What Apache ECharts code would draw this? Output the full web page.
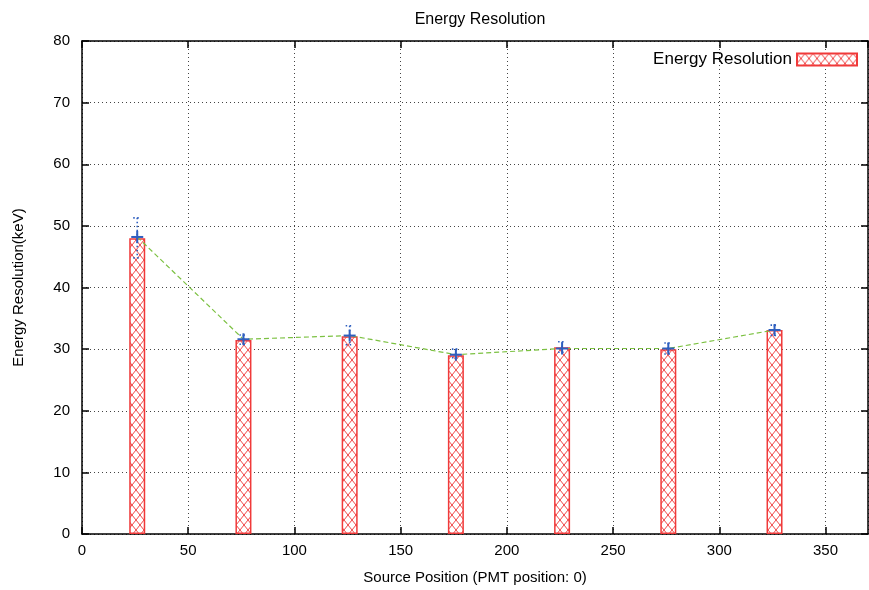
<!DOCTYPE html>
<html><head><meta charset="utf-8">
<script src="https://cdn.jsdelivr.net/npm/echarts@6/dist/echarts.min.js"></script>
<style>html,body{margin:0;padding:0;background:#fff}#c{width:869px;height:590px}</style>
</head><body><div id="c"></div>
<script>
var positions = [26, 76, 126, 176, 226, 276, 326];
var resolution = [48.0, 31.5, 32.1, 29.0, 30.3, 30.0, 33.1];
var fitPoints = [48.2, 31.6, 32.2, 29.1, 30.1, 30.1, 33.1];
var errLow = [44.8, 30.8, 30.7, 28.6, 29.5, 29.2, 32.2];
var errHigh = [51.3, 32.3, 33.8, 30.0, 31.2, 31.0, 33.9];

var FONT = 'Liberation Sans';
var pc = document.createElement('canvas');
pc.width = 8; pc.height = 10;
var g = pc.getContext('2d');
g.fillStyle = '#fff'; g.fillRect(0, 0, 8, 10);
g.strokeStyle = '#f04848'; g.lineWidth = 1;
g.beginPath(); g.moveTo(0, 0); g.lineTo(8, 10); g.moveTo(8, 0); g.lineTo(0, 10); g.stroke();
var hatch = { image: pc, repeat: 'repeat' };

var barData = positions.map(function (p, i) { return [p, resolution[i]]; });
var lineData = positions.map(function (p, i) { return [p, fitPoints[i]]; });
var errData = positions.map(function (p, i) { return [p, errLow[i], errHigh[i], fitPoints[i]]; });

var chart = echarts.init(document.getElementById('c'));
var gridLine = { show: true, lineStyle: { color: '#444', type: [1, 3], width: 1 } };
var tickStyle = { show: true, inside: true, length: 7, lineStyle: { color: '#000', width: 1.5 } };
chart.setOption({
  animation: false,
  textStyle: { fontFamily: FONT },
  title: { text: 'Energy Resolution', left: 475, textAlign: 'center', top: 7,
    textStyle: { fontFamily: FONT, fontSize: 16, fontWeight: 'normal', color: '#000' } },
  legend: { right: 6, top: 46, align: 'right', itemWidth: 60, itemHeight: 12, itemGap: 6,
    data: [{ name: 'Energy Resolution', icon: 'rect' }],
    textStyle: { fontFamily: FONT, fontSize: 17, color: '#000' } },
  grid: { left: 82, right: 1, top: 41, bottom: 56, containLabel: false },
  xAxis: [{
    type: 'value', min: 0, max: 370, interval: 50, position: 'bottom',
    name: 'Source Position (PMT position: 0)', nameLocation: 'middle', nameGap: 36,
    nameTextStyle: { fontFamily: FONT, fontSize: 15, color: '#000' },
    axisLine: { onZero: false, lineStyle: { color: '#000', width: 1.5 } },
    axisTick: tickStyle,
    axisLabel: { fontFamily: FONT, fontSize: 15, color: '#000', margin: 9, showMaxLabel: false },
    splitLine: gridLine
  }, {
    type: 'value', position: 'top', min: 0, max: 370, interval: 50,
    axisLine: { onZero: false, lineStyle: { color: '#000', width: 1.5 } },
    axisTick: tickStyle,
    axisLabel: { show: false }, splitLine: { show: false }
  }],
  yAxis: [{
    type: 'value', min: 0, max: 80, interval: 10, position: 'left',
    name: 'Energy Resolution(keV)', nameLocation: 'middle', nameGap: 56,
    nameTextStyle: { fontFamily: FONT, fontSize: 15, color: '#000' },
    axisLine: { show: true, onZero: false, lineStyle: { color: '#000', width: 1.5 } },
    axisTick: tickStyle,
    axisLabel: { fontFamily: FONT, fontSize: 15, color: '#000', margin: 12 },
    splitLine: gridLine
  }, {
    type: 'value', position: 'right', min: 0, max: 80, interval: 10,
    axisLine: { show: true, onZero: false, lineStyle: { color: '#000', width: 1.5 } },
    axisTick: tickStyle,
    axisLabel: { show: false }, splitLine: { show: false }
  }],
  series: [{
    name: 'Energy Resolution', type: 'bar', barWidth: 16, data: barData,
    itemStyle: { color: hatch, borderColor: '#f03a3a', borderWidth: 1.5 }, z: 2
  }, {
    name: 'fit', type: 'line', data: lineData, showSymbol: false, symbol: 'none',
    lineStyle: { color: '#7cc142', width: 1.2, type: [5, 3] }, z: 3
  }, {
    name: 'err', type: 'custom', data: errData, z: 4,
    renderItem: function (params, api) {
      var x = api.value(0);
      var lo = api.coord([x, api.value(1)]);
      var hi = api.coord([x, api.value(2)]);
      var pt = api.coord([x, api.value(3)]);
      var col = '#2f5fbf';
      var ds = { stroke: col, lineWidth: 1.6, lineDash: [1.5, 2.5] };
      var ps = { stroke: col, lineWidth: 2 };
      return { type: 'group', children: [
        { type: 'line', shape: { x1: hi[0], y1: hi[1], x2: lo[0], y2: lo[1] }, style: ds },
        { type: 'line', shape: { x1: hi[0] - 4, y1: hi[1], x2: hi[0] + 4, y2: hi[1] }, style: ds },
        { type: 'line', shape: { x1: lo[0] - 4, y1: lo[1], x2: lo[0] + 4, y2: lo[1] }, style: ds },
        { type: 'line', shape: { x1: pt[0] - 6, y1: pt[1], x2: pt[0] + 6, y2: pt[1] }, style: ps },
        { type: 'line', shape: { x1: pt[0], y1: pt[1] - 6, x2: pt[0], y2: pt[1] + 6 }, style: ps }
      ] };
    }
  }]
});
</script></body></html>
